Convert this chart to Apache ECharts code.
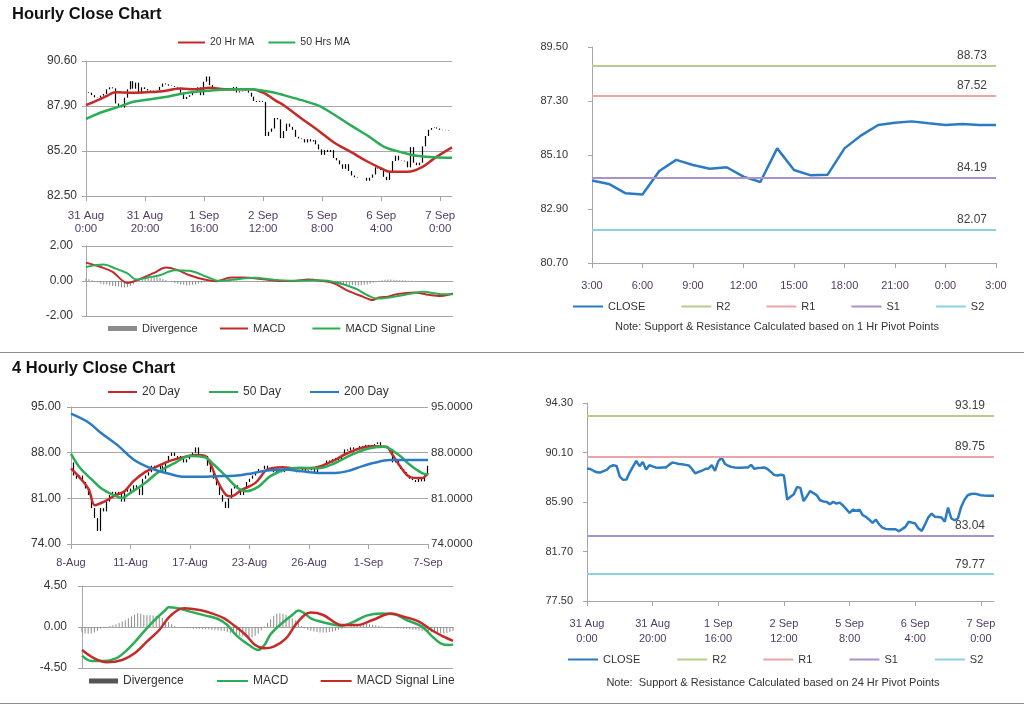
<!DOCTYPE html>
<html>
<head>
<meta charset="utf-8">
<script src="https://cdn.jsdelivr.net/npm/echarts@6/dist/echarts.min.js"></script>
<style>html,body{margin:0;padding:0;background:#fff}#c{width:1024px;height:706px}</style>
</head>
<body>
<div id="c"></div>
<script>
// ---------- DATA ----------
const hourTicks = ['31 Aug\n0:00','31 Aug\n20:00','1 Sep\n16:00','2 Sep\n12:00','5 Sep\n8:00','6 Sep\n4:00','7 Sep\n0:00'];
const dayTicks = ['8-Aug','11-Aug','17-Aug','23-Aug','26-Aug','1-Sep','7-Sep'];
const hr24Ticks = ['3:00','6:00','9:00','12:00','15:00','18:00','21:00','0:00','3:00'];

const hourlyClose = [
88.74,88.70,88.55,88.42,88.40,88.52,88.62,88.90,89.02,88.96,
88.05,87.78,87.80,88.40,88.90,89.39,88.94,89.30,88.66,89.02,
88.92,88.83,88.80,88.82,88.83,89.05,89.25,89.20,89.12,89.10,
89.05,89.00,88.70,88.32,88.45,88.55,88.70,88.74,89.02,88.55,
89.36,89.67,89.15,88.98,88.88,88.82,88.80,88.80,88.82,88.83,
89.05,88.71,88.78,88.80,88.83,88.70,88.46,88.20,88.15,88.21,
88.15,86.10,86.35,86.55,87.18,87.10,85.97,86.40,86.84,86.65,
86.47,86.05,85.95,85.91,85.71,85.91,85.77,85.85,85.60,85.30,
84.97,85.26,85.14,85.26,84.78,84.64,84.40,84.13,84.41,84.00,
83.73,83.62,83.59,83.59,83.59,83.42,83.60,83.79,84.22,84.15,
84.07,83.65,83.45,84.00,84.60,84.92,84.64,84.62,84.58,84.22,
85.43,84.50,84.35,84.50,85.48,86.10,86.47,86.58,86.61,86.55,
86.47,86.45,86.44,86.42,86.42];

const ma20Hr = [[0,87.95],[4,88.25],[7,88.5],[10,88.72],[16,88.7],[22,88.74],[26,88.78],[32,88.95],[37,88.9],[42,89.0],[47,88.9],[56,88.9],[60,88.7],[62,88.5],[64,88.25],[67,87.95],[73,87.15],[79,86.39],[84,85.71],[90,85.12],[95,84.6],[100,84.16],[103,83.95],[109,83.95],[114,84.25],[118,84.76],[124,85.42]];
const ma50Hr = [[0,87.12],[5,87.51],[11,87.85],[16,88.15],[22,88.31],[28,88.47],[33,88.65],[39,88.78],[45,88.86],[50,88.9],[56,88.9],[60,88.82],[64,88.7],[67,88.55],[73,88.25],[79,87.91],[84,87.39],[90,86.71],[96,86.05],[101,85.45],[107,85.12],[112,84.91],[118,84.83],[124,84.79]];

const macdHr = [[0,1.05],[5,0.80],[9,0.52],[14,-0.11],[18,0.10],[23,0.46],[27,0.77],[31,0.62],[35,0.33],[40,0.08],[44,-0.01],[49,0.2],[53,0.2],[59,0.12],[65,0.0],[70,0.0],[75,0.08],[79,0.02],[84,-0.14],[88,-0.52],[93,-0.86],[97,-1.09],[99,-0.94],[102,-0.9],[105,-0.75],[111,-0.66],[115,-0.77],[120,-0.86],[124,-0.71]];
const signalHr = [[0,0.80],[6,0.94],[10,0.71],[14,0.43],[17,0.08],[21,0.2],[25,0.33],[30,0.62],[35,0.58],[41,0.23],[45,0.0],[50,0.08],[57,0.19],[63,0.08],[70,0.02],[79,0.04],[85,-0.1],[91,-0.43],[95,-0.8],[98,-1.0],[104,-0.9],[110,-0.71],[114,-0.62],[120,-0.75],[124,-0.75]];
const divHr = [
0.15,0.10,0.05,-0.02,-0.08,
-0.15,-0.20,-0.22,-0.25,-0.28,-0.30,-0.32,-0.35,-0.37,-0.35,-0.28,-0.18,
-0.05,0.05,0.10,0.15,0.20,0.22,0.24,0.22,0.18,0.12,0.06,0.00,-0.06,
-0.12,-0.16,-0.20,-0.22,-0.25,-0.24,-0.22,-0.18,-0.14,-0.10,-0.06,-0.03,
0.02,0.04,0.06,0.07,0.08,0.07,0.06,0.05,0.04,0.03,
0.02,0.02,0.01,0.00,-0.02,-0.04,-0.05,-0.06,-0.06,-0.05,
-0.04,-0.03,-0.02,-0.01,0.00,0.01,0.02,0.03,0.03,0.02,
0.01,0.00,0.00,0.01,0.02,0.02,0.01,0.00,-0.02,-0.04,
-0.06,-0.08,-0.10,-0.12,
-0.15,-0.18,-0.20,-0.22,-0.24,-0.25,-0.25,-0.24,-0.22,-0.20,-0.16,-0.10,-0.04,
0.02,0.05,0.07,0.08,0.08,0.07,0.06,0.05,0.04,0.03,
0.02,0.01,0.00,-0.02,-0.03,-0.04,-0.05,-0.05,-0.06,-0.06,
-0.05,-0.05,-0.04,-0.03,-0.02,-0.01];

const close24 = [84.06,83.92,83.54,83.49,84.45,84.90,84.69,84.54,84.60,84.22,84.00,85.37,84.49,84.27,84.30,85.37,85.90,86.32,86.41,86.47,86.39,86.32,86.36,86.32,86.32];
const pivots1Hr = {R2: 88.73, R1: 87.52, S1: 84.19, S2: 82.07};
const pivots24Hr = {R2: 93.19, R1: 89.75, S1: 83.04, S2: 79.77};

const close4h = [
86.5,84.5,84.0,84.5,83.5,82.5,81.5,79.5,78.0,76.0,
79.5,79.0,80.5,81.5,82.0,81.5,82.0,80.5,82.0,82.5,
82.0,83.0,82.5,81.5,84.0,84.5,85.0,86.0,85.5,85.5,
86.0,85.0,86.5,87.5,88.0,87.5,87.0,87.5,86.5,87.0,
87.5,88.0,88.8,87.8,87.5,87.5,86.0,85.0,84.0,83.0,
81.5,80.5,79.5,81.0,82.5,83.0,82.5,81.5,82.5,83.5,
84.0,84.5,85.0,85.5,85.5,86.0,85.5,85.5,85.0,85.5,
85.5,85.0,85.5,85.2,85.5,85.3,85.0,85.3,85.5,85.2,
85.3,85.5,85.0,85.5,85.8,86.2,86.8,86.5,87.0,87.2,
86.8,87.5,88.5,88.3,88.8,88.5,88.7,89.0,88.8,89.2,
88.9,89.0,89.3,89.6,89.0,88.8,88.7,88.5,86.5,86.8,
86.0,85.5,85.0,84.5,84.0,83.8,83.5,84.0,83.6,84.5,
86.0];
const ma20Day = [[0,85.6],[3,84.14],[6,82.34],[8,79.95],[11,80.45],[15,81.48],[18,82.1],[21,83.63],[25,85.06],[28,85.68],[33,86.71],[37,87.21],[42,87.63],[45,87.5],[47,86.18],[49,83.88],[52,81.58],[54,81.33],[57,82.19],[62,83.37],[66,85.42],[71,85.78],[75,85.6],[80,85.6],[84,85.94],[89,86.95],[92,87.72],[97,88.64],[101,89.0],[106,88.9],[108,87.72],[111,85.68],[114,84.25],[118,84.1],[120,84.86]];
const ma50Day = [[0,87.8],[3,85.68],[7,83.88],[10,82.6],[14,81.58],[17,81.07],[20,81.84],[25,83.37],[29,84.9],[35,86.45],[40,87.5],[45,87.3],[48,86.18],[52,84.4],[56,82.6],[59,82.1],[63,82.8],[67,84.4],[72,85.41],[77,85.68],[83,85.6],[89,86.45],[94,87.63],[100,88.64],[105,88.9],[110,87.72],[114,86.1],[118,84.86],[120,84.7]];
const ma200Day = [[0,93.97],[6,92.59],[10,91.05],[16,89.0],[21,86.95],[27,85.57],[33,84.76],[38,84.29],[44,84.3],[49,84.4],[55,84.45],[61,84.86],[66,85.26],[72,85.41],[77,85.17],[83,84.9],[89,84.9],[93,85.17],[98,85.94],[102,86.45],[107,86.86],[111,86.86],[116,86.86],[120,86.86]];
const macd4h = [[0,-3.14],[3,-3.73],[7,-3.73],[11,-3.44],[14,-2.7],[17,-1.68],[20,-0.51],[23,0.59],[25,1.25],[27,1.87],[28,2.16],[31,2.05],[35,1.69],[40,1.25],[44,0.88],[47,0.22],[50,-0.95],[54,-1.98],[57,-2.52],[59,-1.98],[61,-0.8],[64,0.22],[68,1.32],[70,1.80],[72,1.5],[74,0.95],[78,0.52],[84,0.15],[88,0.59],[92,1.25],[97,1.47],[101,1.4],[105,0.77],[110,0.04],[113,-0.95],[116,-1.79],[119,-1.98],[120,-1.9]];
const signal4h = [[0,-2.52],[4,-3.44],[8,-3.87],[13,-3.62],[17,-2.89],[21,-1.6],[25,-0.33],[28,1.03],[31,1.87],[33,2.05],[38,1.87],[42,1.5],[46,0.95],[49,0.22],[53,-0.88],[56,-1.98],[59,-2.34],[62,-2.16],[66,-1.24],[69,0.22],[72,1.32],[74,1.58],[78,1.32],[84,0.22],[89,0.22],[94,0.77],[100,1.47],[104,1.14],[109,0.59],[113,-0.33],[117,-1.06],[120,-1.53]];
const div4h = [
-0.6,-0.7,-0.75,-0.7,-0.6,-0.4,
-0.2,-0.1,0.0,0.1,
0.2,0.3,0.45,0.6,0.75,0.95,1.15,1.35,1.5,
1.45,1.35,1.3,1.3,1.25,1.2,1.15,1.0,
0.8,0.55,0.3,0.1,0.0,
-0.1,-0.1,-0.15,-0.15,-0.2,-0.2,-0.2,-0.25,-0.25,-0.25,-0.3,-0.3,-0.35,-0.4,-0.45,
-0.55,-0.65,-0.75,-0.85,-0.95,-1.05,-1.1,-1.15,-1.1,-0.95,-0.7,-0.35,
0.05,0.45,0.85,1.2,1.45,1.5,1.45,1.35,1.2,0.95,0.7,0.4,
0.1,-0.15,-0.3,
-0.4,-0.5,-0.55,-0.6,-0.6,-0.6,-0.55,-0.5,-0.4,-0.3,-0.2,
-0.05,0.05,0.15,0.2,0.25,0.3,0.35,0.35,0.3,0.25,0.2,0.1,0.05,
0.0,-0.05,-0.1,-0.1,-0.15,-0.15,-0.2,-0.2,-0.25,-0.3,-0.3,-0.35,-0.4,-0.45,-0.5,-0.55,-0.6,-0.65,-0.7,-0.7,-0.65,-0.55,-0.45];

// ---------- HELPERS ----------
const FONT = 'Liberation Sans, Arial, sans-serif';
const GRID_C = '#a6a6a6';
const XLAB_C = '#4e3b63';
const RED = '#c42a2a', GREEN = '#2aad55', BLUE = '#2b7bc4';
const LEVEL_C = {R2: '#b5cc8c', R1: '#e8a6a4', S1: '#a893c8', S2: '#8dd0e4'};

function bars(closes) {
  return closes.map((c, i) => { const o = i ? closes[i - 1] : c; return [o, c, Math.min(o, c), Math.max(o, c)]; });
}
function catAxis(g, n, labels, step, margin, lineHeight, fs) {
  const ax = {type: 'category', gridIndex: g, data: Array.from({length: n}, (_, i) => String(i)), boundaryGap: false,
    axisLine: {show: true, lineStyle: {color: GRID_C}}, splitLine: {show: false}};
  if (labels) {
    ax.axisTick = {show: true, interval: step - 1, length: 5, lineStyle: {color: GRID_C}};
    ax.axisLabel = {show: true, interval: step - 1, margin, lineHeight, fontSize: fs || 11, color: XLAB_C, fontFamily: FONT,
      formatter: (v, i) => (i % step === 0 && labels[i / step] !== undefined) ? labels[i / step] : ''};
  } else {
    ax.axisTick = {show: false};
    ax.axisLabel = {show: false};
  }
  return ax;
}
function valAxis(g, min, max, ticks, split, margin, fs) {
  return {type: 'value', gridIndex: g, min, max, position: 'left',
    axisLine: {show: true, lineStyle: {color: GRID_C}},
    axisTick: {show: true, length: 4, customValues: ticks, lineStyle: {color: GRID_C}},
    axisLabel: {customValues: ticks, formatter: v => v.toFixed(2), fontSize: fs || 11, color: '#333', margin, fontFamily: FONT},
    splitLine: {show: split, lineStyle: {color: GRID_C, width: 1}}};
}
function lineS(name, data, color, xi, yi, width) {
  return {name, type: 'line', xAxisIndex: xi, yAxisIndex: yi, data, smooth: 0.35, showSymbol: false, symbol: 'none',
    color, lineStyle: {color, width: width || 2}, z: 3};
}
function levelS(name, value, xi, yi) {
  const color = LEVEL_C[name];
  return {name, type: 'line', xAxisIndex: xi, yAxisIndex: yi, data: [], color, showSymbol: false, symbol: 'none',
    lineStyle: {color, width: 2},
    markLine: {silent: true, symbol: ['none', 'none'], animation: false,
      lineStyle: {color, width: 2, type: 'solid'},
      label: {show: true, position: 'insideEndTop', formatter: value.toFixed(2), color: '#404040', fontSize: 12, fontFamily: FONT, distance: [9, 4]},
      emphasis: {disabled: true},
      data: [{yAxis: value}]}};
}
function candle(data, xi, yi) {
  return {type: 'candlestick', xAxisIndex: xi, yAxisIndex: yi, data, barWidth: 1, z: 2,
    itemStyle: {color: '#000', color0: '#000', borderColor: '#000', borderColor0: '#000', borderWidth: 1.2}};
}
function divS(name, data, xi, yi) {
  return {name, type: 'bar', xAxisIndex: xi, yAxisIndex: yi, data, barWidth: 1, color: '#8c8c8c', itemStyle: {color: '#8c8c8c'}, z: 1};
}
function legend(names, left, top, w, h, gap, fs, extra) {
  return Object.assign({data: names, left, top, padding: 0, itemWidth: w, itemHeight: h, itemGap: gap, icon: 'rect',
    selectedMode: false, textStyle: {fontSize: fs, color: '#333', fontFamily: FONT, padding: [0, 0, 0, 0]}}, extra || {});
}

const nH = hourlyClose.length, n4 = close4h.length, n24 = close24.length;

const option = {
  animation: false,
  backgroundColor: '#fff',
  textStyle: {fontFamily: FONT},
  grid: [
    {left: 86, top: 61, width: 366, height: 135},
    {left: 86, top: 246, width: 367, height: 70},
    {left: 592, top: 47, width: 404, height: 216},
    {left: 71, top: 407, width: 357, height: 137},
    {left: 82, top: 586, width: 371, height: 82},
    {left: 587, top: 403, width: 407, height: 198}
  ],
  xAxis: [
    catAxis(0, nH, hourTicks, 20, 13, 13, 11.5),
    catAxis(1, nH, null),
    catAxis(2, n24, hr24Ticks, 3, 16, 13, 11),
    catAxis(3, n4, dayTicks, 20, 12, 13, 11),
    catAxis(4, n4, null),
    catAxis(5, nH, hourTicks, 20, 15, 15, 11)
  ],
  yAxis: [
    valAxis(0, 82.5, 90.6, [82.5, 85.2, 87.9, 90.6], true, 9, 12),
    valAxis(1, -2, 2, [-2, 0, 2], true, 13, 12),
    valAxis(2, 80.7, 89.5, [80.7, 82.9, 85.1, 87.3, 89.5], false, 24, 11),
    valAxis(3, 74, 95, [74, 81, 88, 95], true, 10, 12),
    {type: 'value', gridIndex: 3, position: 'right', min: 74, max: 95,
      axisLine: {show: false}, axisTick: {show: false}, splitLine: {show: false},
      axisLabel: {customValues: [74, 81, 88, 95], formatter: v => v.toFixed(4), fontSize: 11.5, color: '#333', margin: 3, fontFamily: FONT}},
    valAxis(4, -4.5, 4.5, [-4.5, 0, 4.5], true, 15, 12),
    valAxis(5, 77.5, 94.3, [77.5, 81.7, 85.9, 90.1, 94.3], false, 14, 11)
  ],
  legend: [
    legend(['20 Hr MA', '50 Hrs MA'], 178, 37, 27, 2, 14, 10.5),
    legend(['Divergence'], 108, 323, 29, 5, 10, 11),
    legend(['MACD', 'MACD Signal Line'], 220, 323, 28, 2, 27, 11),
    legend(['CLOSE', 'R2', 'R1', 'S1', 'S2'], 573, 301, 30, 2, 36, 11),
    legend(['20 Day', '50 Day', '200 Day'], 108, 386, 29, 2, 29, 12),
    legend([{name: 'Divergence ', itemStyle: {color: '#555'}}], 89, 675, 29, 5, 10, 12),
    legend(['MACD ', 'MACD Signal Line '], 217, 675, 31, 2, 29, 12),
    legend(['CLOSE', 'R2', 'R1', 'S1', 'S2'], 568, 654, 30, 2, 37, 11)
  ],
  series: [
    candle(bars(hourlyClose), 0, 0),
    lineS('20 Hr MA', ma20Hr, RED, 0, 0, 2.5),
    lineS('50 Hrs MA', ma50Hr, GREEN, 0, 0, 2.5),

    divS('Divergence', divHr, 1, 1),
    lineS('MACD', macdHr, RED, 1, 1, 2),
    lineS('MACD Signal Line', signalHr, GREEN, 1, 1, 2),

    Object.assign(lineS('CLOSE', close24, BLUE, 2, 2, 2.5), {smooth: false}),
    levelS('R2', pivots1Hr.R2, 2, 2),
    levelS('R1', pivots1Hr.R1, 2, 2),
    levelS('S1', pivots1Hr.S1, 2, 2),
    levelS('S2', pivots1Hr.S2, 2, 2),

    candle(bars(close4h), 3, 3),
    lineS('20 Day', ma20Day, RED, 3, 3, 2.5),
    lineS('50 Day', ma50Day, GREEN, 3, 3, 2.5),
    lineS('200 Day', ma200Day, BLUE, 3, 3, 2.5),

    divS('Divergence ', div4h, 4, 5),
    lineS('MACD ', macd4h, GREEN, 4, 5, 2.5),
    lineS('MACD Signal Line ', signal4h, RED, 4, 5, 2.5),

    Object.assign(lineS('CLOSE', hourlyClose, BLUE, 5, 6, 2.5), {smooth: false}),
    levelS('R2', pivots24Hr.R2, 5, 6),
    levelS('R1', pivots24Hr.R1, 5, 6),
    levelS('S1', pivots24Hr.S1, 5, 6),
    levelS('S2', pivots24Hr.S2, 5, 6)
  ],
  graphic: [
    {type: 'text', x: 12, y: 6, style: {text: 'Hourly Close Chart', font: 'bold 16.5px ' + FONT, fill: '#111'}},
    {type: 'text', x: 12, y: 360, style: {text: '4 Hourly Close Chart', font: 'bold 16.5px ' + FONT, fill: '#111'}},
    {type: 'line', shape: {x1: 0, y1: 352.5, x2: 1024, y2: 352.5}, style: {stroke: '#8c8c8c', lineWidth: 1}},
    {type: 'line', shape: {x1: 0, y1: 703.5, x2: 1024, y2: 703.5}, style: {stroke: '#8c8c8c', lineWidth: 1}},
    {type: 'text', x: 777, y: 327, style: {text: 'Note: Support & Resistance Calculated based on 1 Hr Pivot Points', font: '11px ' + FONT, fill: '#333', textAlign: 'center', textVerticalAlign: 'middle'}},
    {type: 'text', x: 773, y: 683, style: {text: 'Note:  Support & Resistance Calculated based on 24 Hr Pivot Points', font: '11px ' + FONT, fill: '#333', textAlign: 'center', textVerticalAlign: 'middle'}}
  ]
};

const chart = echarts.init(document.getElementById('c'), null, {renderer: 'canvas'});
chart.setOption(option);
</script>
</body>
</html>
